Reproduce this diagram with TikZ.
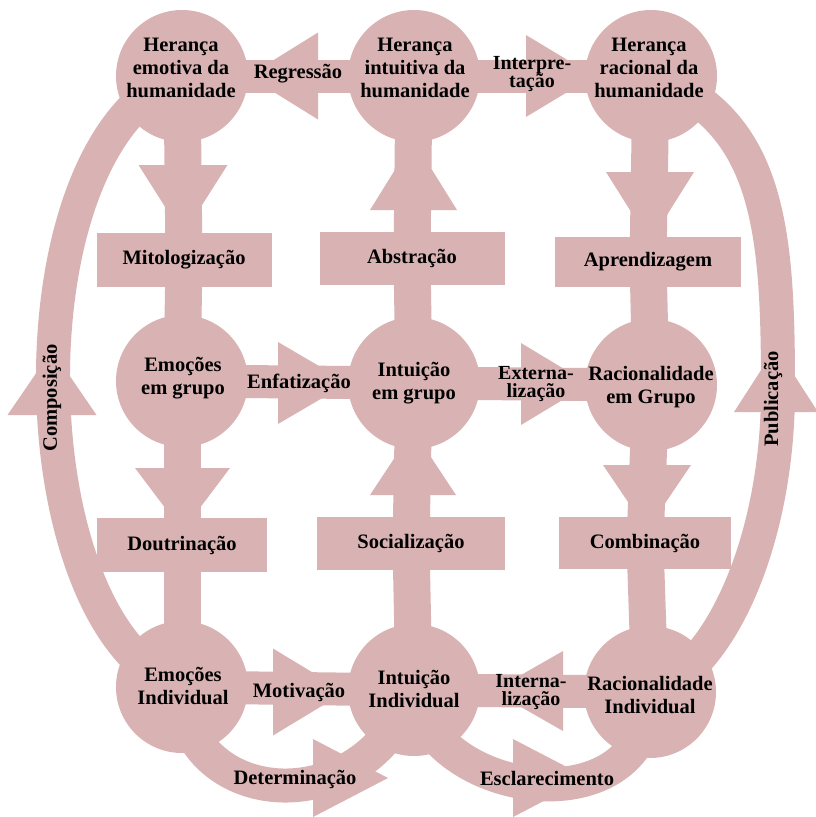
\documentclass[tikz,border=0pt]{standalone}
\usepackage{fontspec}
\setmainfont{Liberation Serif}
\definecolor{pk}{RGB}{217,179,179}
\pgfdeclarelayer{bg}
\pgfsetlayers{bg,main}
\newcommand\lbf{\bfseries\fontsize{20.5}{23}\selectfont}
\newcommand\lbt{\bfseries\fontsize{20}{18.5}\selectfont}
\begin{document}
\begin{tikzpicture}[x=1pt,y=-1pt,
  circ/.style={circle,fill=pk,minimum size=132pt,inner sep=0pt,outer sep=0pt},
  box/.style={rectangle,fill=pk,inner sep=0pt,outer sep=0pt,font=\lbf},
  txt/.style={align=center,font=\lbf,inner sep=0pt},
  txtb/.style={align=center,font=\lbt,inner sep=0pt},
  vbar/.style={draw=pk,line width=37pt},
  hbar/.style={draw=pk,line width=33pt},
  band/.style={draw=pk,line width=34pt},
  head/.style={fill=pk}]
\useasboundingbox (0,0) rectangle (816,817);
% circles
\node[circ] (tl) at (182,76) {};
\node[circ] (tm) at (414,76) {};
\node[circ] (tr) at (651,76) {};
\node[circ] (ml) at (182,381) {};
\node[circ] (mm) at (414,383) {};
\node[circ] (mr) at (651,385) {};
\node[circ] (bl) at (182,687) {};
\node[circ] (bm) at (414,690) {};
\node[circ] (br) at (650,692) {};
% boxes
\node[box,minimum width=175pt,minimum height=54pt] (mito) at (184,260) {Mitologização};
\node[box,minimum width=185pt,minimum height=53pt] (abst) at (412,258.5) {Abstração};
\node[box,minimum width=186pt,minimum height=50pt] (apre) at (648,262) {Aprendizagem};
\node[box,minimum width=170pt,minimum height=54pt] (dout) at (182,545) {Doutrinação};
\node[box,minimum width=188pt,minimum height=53pt] (soci) at (411,543.5) {Socialização};
\node[box,minimum width=172pt,minimum height=52pt] (comb) at (645,543) {Combinação};
\coordinate (pubmid) at (778,390);
\begin{pgfonlayer}{bg}
% vertical connectors
\draw[vbar] (tl.center) -- (mito.center);
\draw[vbar] (mito.center) -- (ml.center);
\draw[vbar] (ml.center) -- (dout.center);
\draw[vbar] (dout.center) -- (bl.center);
\draw[vbar] (abst.center) -- (tm.center);
\draw[vbar] (mm.center) -- (abst.center);
\draw[vbar] (soci.center) -- (mm.center);
\draw[vbar] (bm.center) -- (soci.center);
\draw[vbar] (tr.center) -- (apre.center);
\draw[vbar] (apre.center) -- (mr.center);
\draw[vbar] (mr.center) -- (comb.center);
\draw[vbar] (comb.center) -- (br.center);
% horizontal connectors
\draw[hbar] (tm.center) -- (tl.center);
\draw[hbar] (tm.center) -- (tr.center);
\draw[hbar] (ml.center) -- (mm.center);
\draw[hbar] (mm.center) -- (mr.center);
\draw[hbar] (bl.center) -- (bm.center);
\draw[hbar] (br.center) -- (bm.center);
% outer loops
\draw[band] (bl.center) .. controls (15,630) and (5,140) .. (tl.center);
\draw[band] (br.center) .. controls (720,670) and (778,540) .. (pubmid)
                        .. controls (778,230) and (770,120) .. (tr.center);
\draw[band] (bl.center) .. controls (180,805) and (360,830) .. (bm.center);
\draw[band] (bm.center) .. controls (430,800) and (650,830) .. (br.center);
% arrow heads
\fill[head] (318,32.5) -- (318,119.5) -- (248,76) -- cycle;
\fill[head] (526,35) -- (526,117) -- (594,76) -- cycle;
\fill[head] (278,342) -- (278,424) -- (348,383) -- cycle;
\fill[head] (521,343) -- (521,425) -- (589,384) -- cycle;
\fill[head] (273,648.5) -- (273,735.5) -- (345,692) -- cycle;
\fill[head] (563,651) -- (563,731) -- (493,691) -- cycle;
\fill[head] (138.5,165) -- (227.5,165) -- (183,235) -- cycle;
\fill[head] (370,210) -- (457,210) -- (413.5,140) -- cycle;
\fill[head] (606,172) -- (694,172) -- (650,242) -- cycle;
\fill[head] (135,468) -- (230,468) -- (182.5,531) -- cycle;
\fill[head] (370,495) -- (456,495) -- (413,430) -- cycle;
\fill[head] (603,465) -- (691,465) -- (647,530) -- cycle;
\fill[head] (7.5,415) -- (96.5,415) -- (52,350) -- cycle;
\fill[head] (734,412) -- (818,412) -- (776,347) -- cycle;
\fill[head] (313,739) -- (313,817) -- (388,778) -- cycle;
\fill[head] (513,739) -- (513,817) -- (588,778) -- cycle;
\end{pgfonlayer}
% circle texts
\node[txt] (tlt) at (181,68) {Herança\\emotiva da\\humanidade};
\node[txt] (tmt) at (415,68) {Herança\\intuitiva da\\humanidade};
\node[txt] (trt) at (649,68) {Herança\\racional da\\humanidade};
\node[txt] (mlt) at (183,378) {Emoções\\em grupo};
\node[txt] (mmt) at (414,383) {Intuição\\em grupo};
\node[txt] (mrt) at (651,387) {Racionalidade\\em Grupo};
\node[txt] (blt) at (183,686) {Emoções\\Individual};
\node[txt] (bmt) at (414,689) {Intuição\\Individual};
\node[txt] (brt) at (650,695) {Racionalidade\\Individual};
% connector labels
\node[txt] (lreg) at (298,74) {Regressão};
\node[txtb] (lint) at (532,74) {Interpre-\\tação};
\node[txt] (lenf) at (299,383) {Enfatização};
\node[txtb] (lext) at (536,384) {Externa-\\lização};
\node[txt] (lmot) at (299,692) {Motivação};
\node[txtb] (linn) at (531,692) {Interna-\\lização};
\node[txt] (ldet) at (295,779) {Determinação};
\node[txt] (lesc) at (547,778) {Esclarecimento};
\node[txt,rotate=90] (lcom) at (52,398) {Composição};
\node[txt,rotate=90] (lpub) at (773,399) {Publicação};
\end{tikzpicture}
\end{document}
